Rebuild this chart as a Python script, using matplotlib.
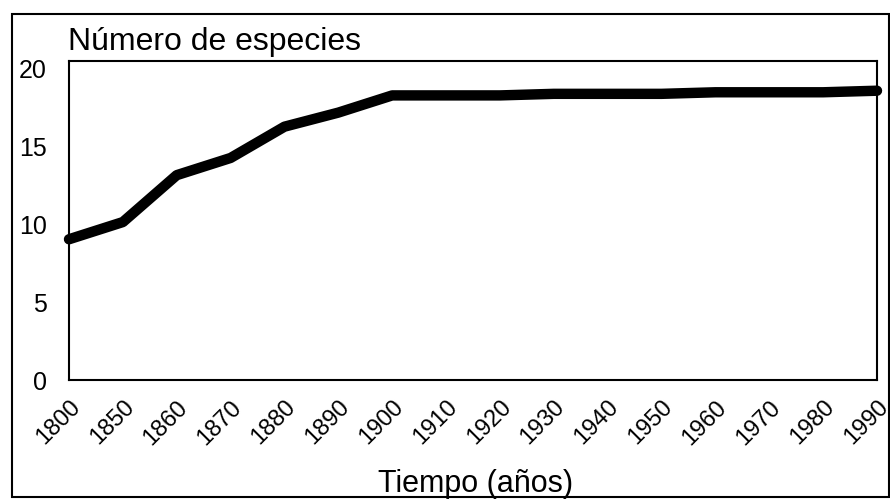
import matplotlib.pyplot as plt
from matplotlib.patches import Rectangle

plt.rcParams["font.family"] = ["Liberation Sans", "DejaVu Sans"]

# data
years = ["1800", "1850", "1860", "1870", "1880", "1890", "1900", "1910",
         "1920", "1930", "1940", "1950", "1960", "1970", "1980", "1990"]
species = [9.0, 10.1, 13.1, 14.2, 16.2, 17.1, 18.2, 18.2,
           18.2, 18.3, 18.3, 18.3, 18.4, 18.4, 18.4, 18.5]

fig = plt.figure(figsize=(8.9, 5.02), dpi=100)
ax = fig.add_axes([69 / 890, 1 - 381 / 502, 808 / 890, 319 / 502])

x = range(len(years))
ax.plot(x, species, color="black", linewidth=7.5, solid_capstyle="round",
        solid_joinstyle="round", clip_on=False)

ax.set_xlim(0, len(years) - 1)
ax.set_ylim(0, 20.4)
ax.set_yticks([0, 5, 10, 15, 20])
ax.set_xticks(list(x))
ax.set_xticklabels(years, rotation=45, ha="right", va="top",
                   rotation_mode="anchor", fontsize=17)
ax.tick_params(axis="both", length=0)
ax.tick_params(axis="y", labelsize=18, pad=16)
ax.tick_params(axis="x", pad=11)
for s in ax.spines.values():
    s.set_linewidth(1.5)

fig.text(68 / 890, 1 - 42 / 502, "Número de especies", fontsize=23,
         ha="left", va="center")
fig.text(476 / 890, 1 - 484 / 502, "Tiempo (años)", fontsize=22,
         ha="center", va="center")

# outer frame round the whole figure
fig.patches.append(Rectangle((12 / 890, 1 - 498 / 502), 877 / 890, 483 / 502,
                             transform=fig.transFigure, fill=False,
                             edgecolor="black", linewidth=1.5))

plt.savefig("out.png", dpi=100)
